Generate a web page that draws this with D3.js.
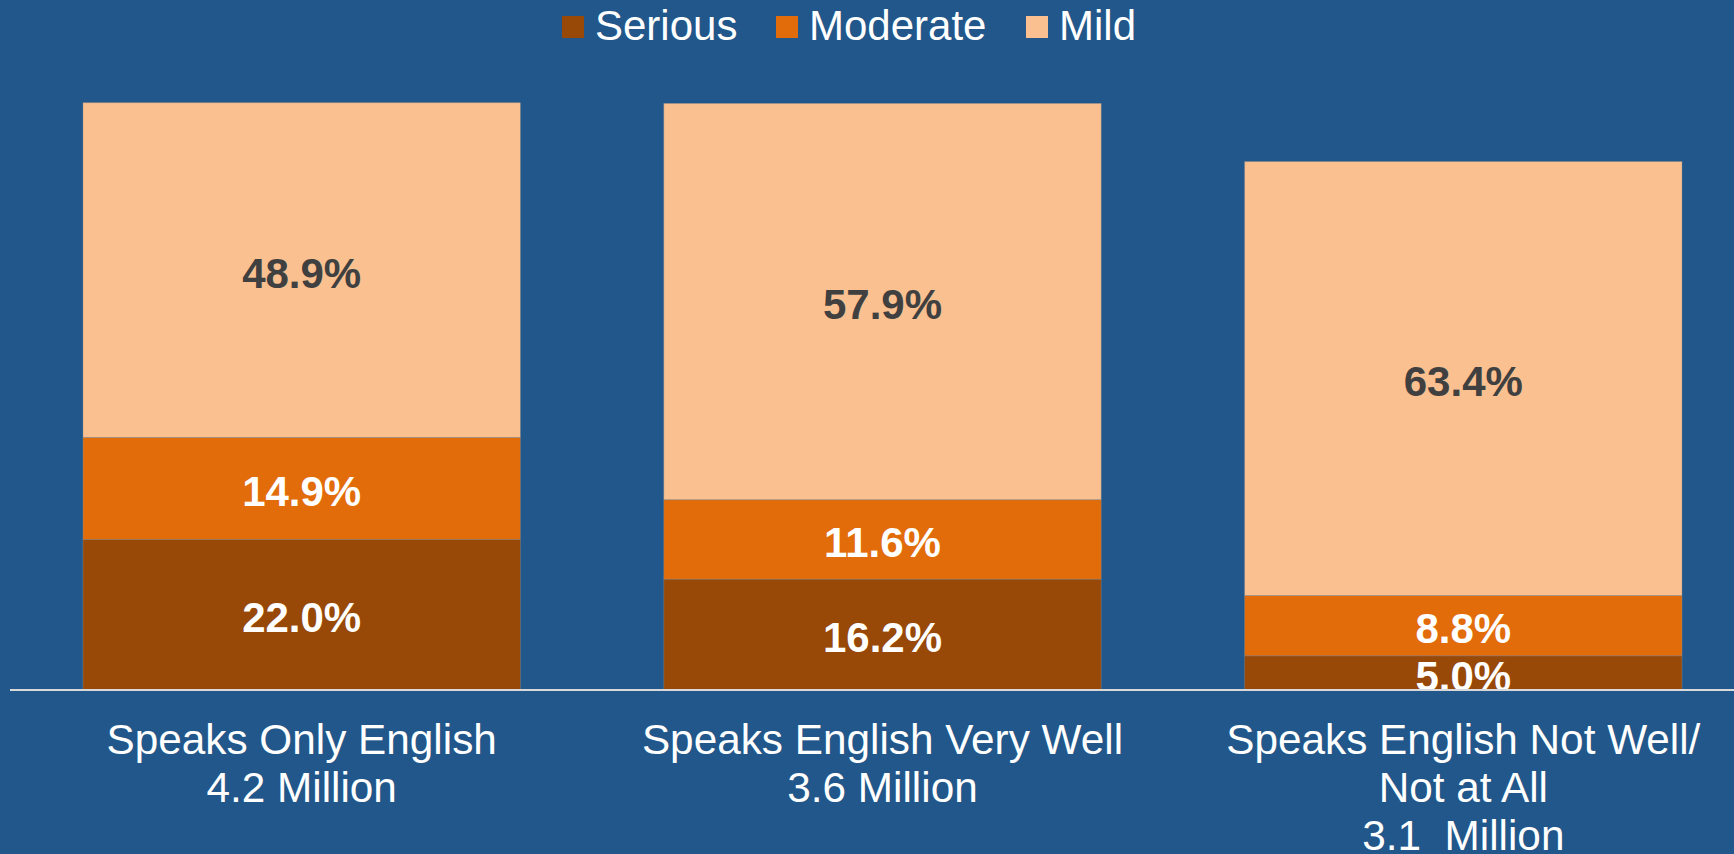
<!DOCTYPE html>
<html>
<head>
<meta charset="utf-8">
<script src="https://cdn.jsdelivr.net/npm/d3@7"></script>
<style>
  html, body { margin: 0; padding: 0; background: #21578a; }
  svg { display: block; font-family: "Liberation Sans", Arial, sans-serif; }
</style>
</head>
<body>
<div id="chart"></div>
<script>
// data
const categories = ["only", "veryWell", "notWell"];
const categoryLines = [
  ["Speaks Only English", "4.2 Million"],
  ["Speaks English Very Well", "3.6 Million"],
  ["Speaks English Not Well/", "Not at All", "3.1  Million"]
];
const seriesNames = ["Serious", "Moderate", "Mild"];
const serious = [22.0, 16.2, 5.0];
const moderate = [14.9, 11.6, 8.8];
const mild = [48.9, 57.9, 63.4];

const colors = ["#984807", "#e36c0a", "#fac090"];
const labelColors = ["#ffffff", "#ffffff", "#404040"];

const width = 1734, height = 854;
const baseY = 690;

const svg = d3.select("#chart")
  .append("svg")
  .attr("width", width)
  .attr("height", height);

svg.append("rect")
  .attr("width", width)
  .attr("height", height)
  .attr("fill", "#21578a");

// build stacked table
const table = categories.map((c, i) => ({
  cat: c, Serious: serious[i], Moderate: moderate[i], Mild: mild[i]
}));
const stacked = d3.stack().keys(seriesNames)(table);

const xScale = d3.scaleBand()
  .domain(categories)
  .range([83, 1682])
  .paddingInner(0.247)
  .paddingOuter(0);

const yScale = d3.scaleLinear()
  .domain([0, 100])
  .range([baseY, 5.5]);

// bars
const layers = svg.selectAll("g.layer")
  .data(stacked)
  .join("g")
  .attr("class", "layer")
  .attr("fill", (d, i) => colors[i]);

layers.selectAll("rect")
  .data(d => d)
  .join("rect")
  .attr("x", d => xScale(d.data.cat))
  .attr("y", d => yScale(d[1]))
  .attr("width", xScale.bandwidth())
  .attr("height", d => yScale(d[0]) - yScale(d[1]))
  .attr("stroke", "#8c8c8c")
  .attr("stroke-opacity", 0.5)
  .attr("stroke-width", 0.8);

// value labels
stacked.forEach((layer, i) => {
  svg.append("g")
    .selectAll("text")
    .data(layer)
    .join("text")
    .attr("x", d => xScale(d.data.cat) + xScale.bandwidth() / 2)
    .attr("y", d => (yScale(d[0]) + yScale(d[1])) / 2)
    .attr("dy", "0.42em")
    .attr("text-anchor", "middle")
    .attr("font-size", "42px")
    .attr("font-weight", "bold")
    .attr("fill", labelColors[i])
    .text(d => d3.format(".1f")(d[1] - d[0]) + "%");
});

// baseline
svg.append("line")
  .attr("x1", 10)
  .attr("x2", width)
  .attr("y1", baseY)
  .attr("y2", baseY)
  .attr("stroke", "#d9d9d9")
  .attr("stroke-width", 2);

// category labels
categories.forEach((c, i) => {
  const cx = xScale(c) + xScale.bandwidth() / 2;
  categoryLines[i].forEach((line, j) => {
    svg.append("text")
      .attr("x", cx)
      .attr("y", 754 + j * 48)
      .attr("text-anchor", "middle")
      .attr("font-size", "42.3px")
      .attr("fill", "#ffffff")
      .style("white-space", "pre")
      .text(line);
  });
});

// legend
const legendX = [562, 776, 1026];
const legend = svg.append("g").attr("class", "legend");
seriesNames.forEach((name, i) => {
  legend.append("rect")
    .attr("x", legendX[i])
    .attr("y", 16)
    .attr("width", 22)
    .attr("height", 22)
    .attr("fill", colors[i]);
  legend.append("text")
    .attr("x", legendX[i] + 33)
    .attr("y", 39.5)
    .attr("font-size", "42px")
    .attr("fill", "#ffffff")
    .text(name);
});
</script>
</body>
</html>
